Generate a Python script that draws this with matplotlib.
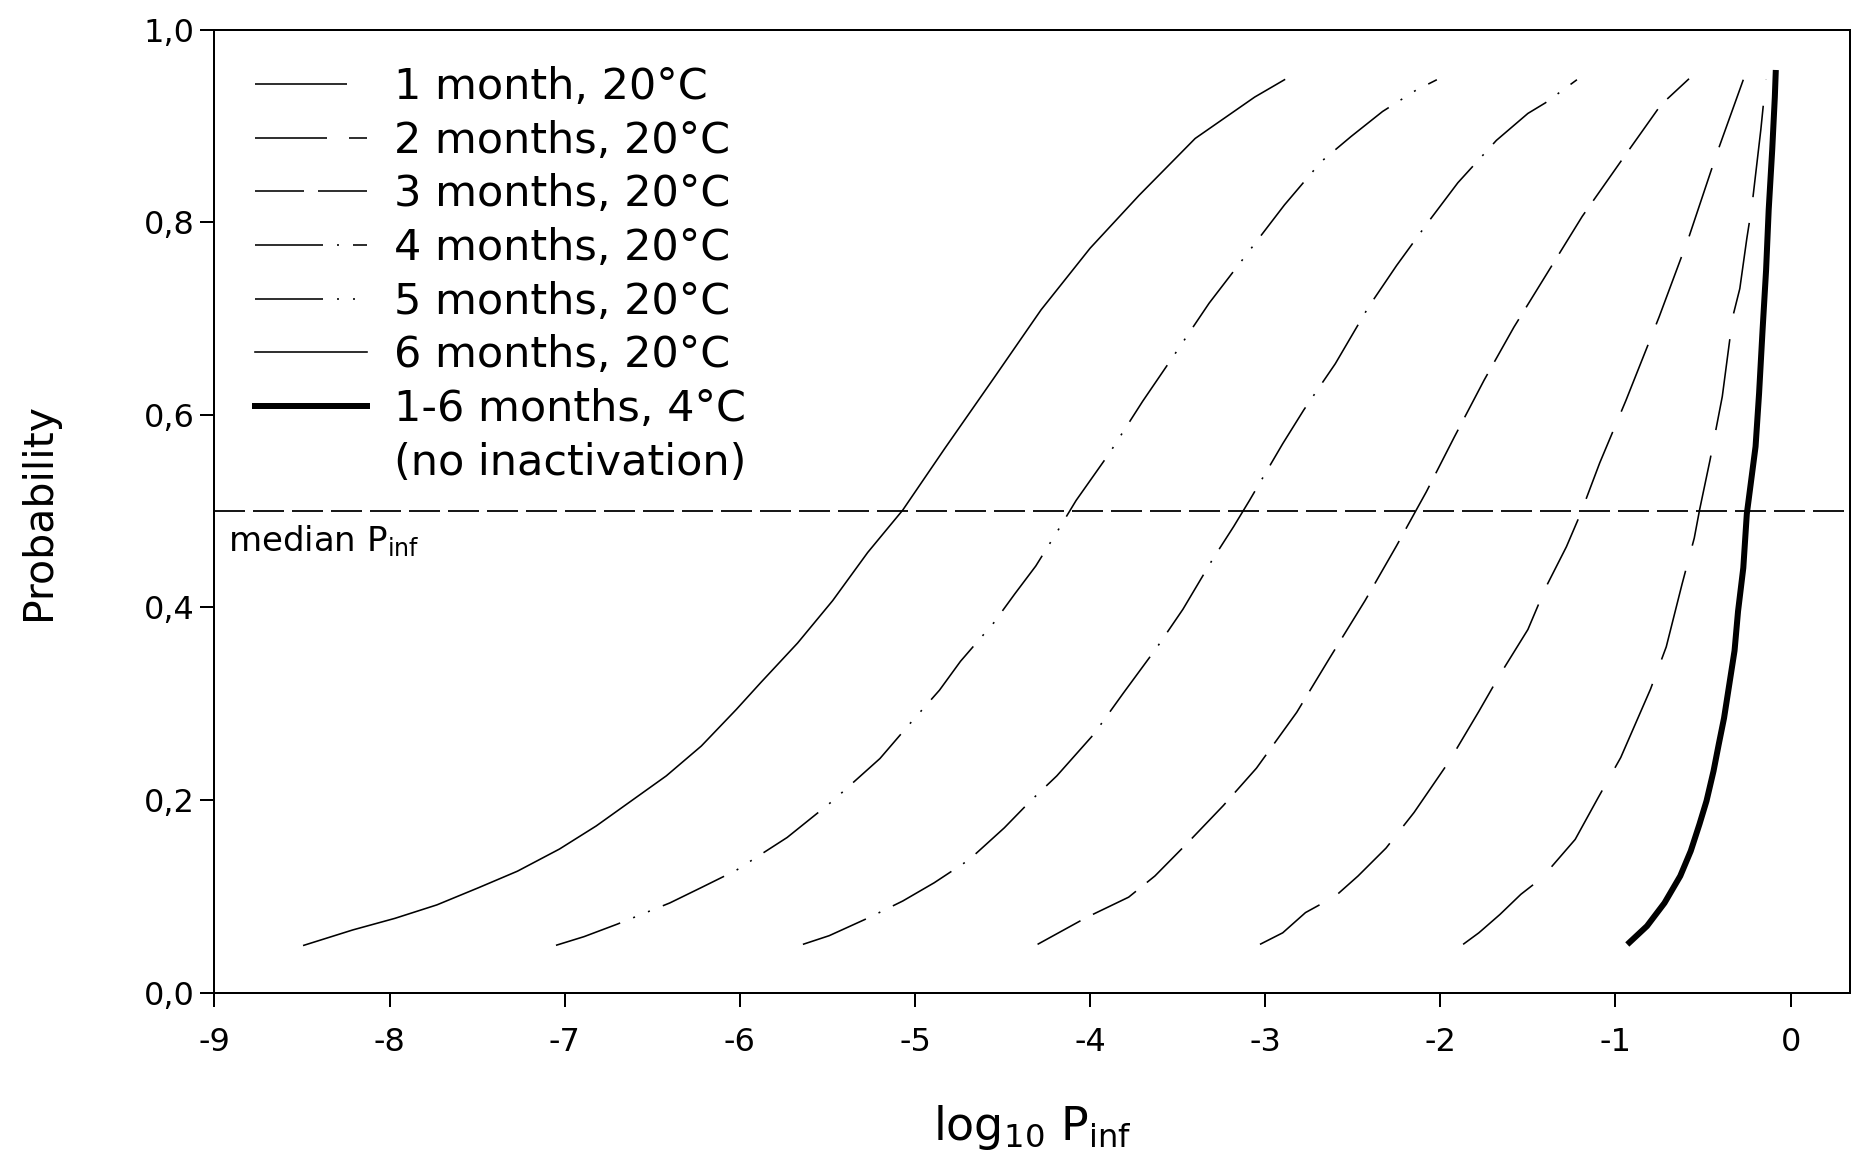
import matplotlib
matplotlib.use("Agg")
import matplotlib.pyplot as plt
from matplotlib.lines import Line2D
from matplotlib.ticker import FuncFormatter

# curves: log10 P_inf (x) against probability (y)
x_1m = [-1.87, -1.78, -1.66, -1.54, -1.42, -1.23, -1.10, -0.97, -0.80, -0.71, -0.62,
        -0.55, -0.52, -0.46, -0.39, -0.33, -0.29, -0.25, -0.22, -0.17, -0.15, -0.14]
y_1m = [0.050, 0.062, 0.081, 0.102, 0.119, 0.159, 0.202, 0.244, 0.315, 0.359, 0.424,
        0.472, 0.501, 0.553, 0.619, 0.702, 0.731, 0.783, 0.818, 0.896, 0.932, 0.948]

x_2m = [-3.03, -2.90, -2.77, -2.60, -2.47, -2.31, -2.15, -1.95, -1.78, -1.66, -1.50,
        -1.40, -1.28, -1.20, -1.09, -0.94, -0.75, -0.58, -0.42, -0.27]
y_2m = [0.050, 0.062, 0.083, 0.100, 0.121, 0.150, 0.187, 0.240, 0.292, 0.330, 0.377,
        0.420, 0.463, 0.497, 0.550, 0.615, 0.702, 0.785, 0.872, 0.948]

x_3m = [-4.30, -4.02, -3.78, -3.63, -3.44, -3.24, -3.05, -2.82, -2.63, -2.43, -2.25,
        -2.15, -2.08, -1.92, -1.75, -1.58, -1.38, -1.19, -0.97, -0.74, -0.58]
y_3m = [0.050, 0.078, 0.099, 0.121, 0.156, 0.194, 0.233, 0.291, 0.348, 0.407, 0.464,
        0.497, 0.520, 0.577, 0.636, 0.691, 0.750, 0.806, 0.863, 0.922, 0.949]

x_4m = [-5.64, -5.49, -5.26, -5.07, -4.89, -4.69, -4.49, -4.34, -4.19, -3.98, -3.81,
        -3.62, -3.47, -3.30, -3.18, -3.09, -2.90, -2.78, -2.60, -2.41, -2.25, -2.07,
        -1.90, -1.68, -1.50, -1.40, -1.22]
y_4m = [0.050, 0.059, 0.078, 0.095, 0.114, 0.138, 0.171, 0.199, 0.225, 0.268, 0.311,
        0.358, 0.398, 0.450, 0.484, 0.511, 0.570, 0.605, 0.653, 0.712, 0.755, 0.800,
        0.841, 0.885, 0.913, 0.924, 0.948]

x_5m = [-7.05, -6.89, -6.70, -6.40, -6.22, -6.02, -5.73, -5.47, -5.20, -5.03, -4.86,
        -4.74, -4.55, -4.43, -4.31, -4.18, -4.08, -3.89, -3.70, -3.52, -3.32, -3.13,
        -2.89, -2.68, -2.51, -2.33, -2.14, -2.02]
y_5m = [0.049, 0.058, 0.071, 0.093, 0.109, 0.127, 0.161, 0.199, 0.243, 0.279, 0.314,
        0.344, 0.384, 0.414, 0.443, 0.481, 0.511, 0.560, 0.614, 0.662, 0.716, 0.761,
        0.818, 0.863, 0.889, 0.915, 0.937, 0.948]

x_6m = [-8.49, -8.21, -7.97, -7.73, -7.49, -7.27, -7.03, -6.82, -6.62, -6.42, -6.22,
        -6.02, -5.88, -5.67, -5.47, -5.27, -5.07, -4.83, -4.55, -4.28, -4.00, -3.72,
        -3.40, -3.06, -2.89]
y_6m = [0.049, 0.065, 0.077, 0.091, 0.109, 0.126, 0.149, 0.173, 0.199, 0.225, 0.256,
        0.294, 0.322, 0.363, 0.407, 0.457, 0.501, 0.565, 0.638, 0.709, 0.773, 0.828,
        0.887, 0.930, 0.948]

x_4c = [-0.92, -0.82, -0.72, -0.63, -0.57, -0.52, -0.48, -0.44, -0.41, -0.38, -0.35,
        -0.32, -0.30, -0.27, -0.25, -0.20, -0.18, -0.16, -0.14, -0.125, -0.105, -0.09, -0.085]
y_4c = [0.052, 0.069, 0.093, 0.121, 0.147, 0.175, 0.199, 0.230, 0.258, 0.285, 0.320,
        0.355, 0.396, 0.441, 0.497, 0.567, 0.622, 0.688, 0.750, 0.813, 0.875, 0.930, 0.955]

labels = ['1 month, 20°C', '2 months, 20°C', '3 months, 20°C', '4 months, 20°C',
          '5 months, 20°C', '6 months, 20°C', '1-6 months, 4°C']
median_p = 0.5

plt.rcParams['font.family'] = 'DejaVu Sans'
plt.rcParams['axes.unicode_minus'] = False
plt.rcParams['mathtext.default'] = 'regular'
plt.rcParams['lines.scale_dashes'] = False

# dpi 72 -> 1 pt == 1 px
fig = plt.figure(figsize=(1857 / 72, 1163 / 72), dpi=72)
ax = fig.add_axes([0.1155, 0.1466, 0.8808, 0.8279])

thin = 1.6
lines = []
lines += ax.plot(x_1m, y_1m, color='black', lw=thin, dashes=(92, 26))
lines += ax.plot(x_2m, y_2m, color='black', lw=thin, dashes=(72, 22))
lines += ax.plot(x_3m, y_3m, color='black', lw=thin, dashes=(49, 14))
lines += ax.plot(x_4m, y_4m, color='black', lw=thin, dashes=(68, 14, 2, 14))
lines += ax.plot(x_5m, y_5m, color='black', lw=thin, dashes=(68, 14, 2, 14, 2, 14))
lines += ax.plot(x_6m, y_6m, color='black', lw=thin)
lines += ax.plot(x_4c, y_4c, color='black', lw=6)

ax.axhline(median_p, color='black', lw=1.8, dashes=(31, 8))
ax.text(-8.92, 0.487, 'median P$_{inf}$', fontsize=34, va='top', ha='left')

# extra blank entry carries the second line of the last label
handles = lines + [Line2D([], [], color='none')]
texts = labels + ['(no inactivation)']
ax.legend(handles, texts, loc='upper left', bbox_to_anchor=(0.0246, 0.962),
          frameon=False, fontsize=43, handlelength=2.6, handletextpad=0.65,
          labelspacing=0.27, borderpad=0, borderaxespad=0)

ax.set_xlim(-9, 0.34)
ax.set_ylim(0, 1.0)
ax.set_xticks(range(-9, 1))
ax.set_yticks([0, 0.2, 0.4, 0.6, 0.8, 1.0])
ax.yaxis.set_major_formatter(FuncFormatter(lambda v, pos: f'{v:.1f}'.replace('.', ',')))
ax.tick_params(direction='out', length=14, width=2, labelsize=32, top=False, right=False)
ax.tick_params(axis='x', pad=20)
ax.tick_params(axis='y', pad=6)
for s in ax.spines.values():
    s.set_linewidth(2)

ax.set_xlabel('log$_{10}$ P$_{inf}$', fontsize=46)
ax.set_ylabel('Probability', fontsize=41)
ax.xaxis.set_label_coords(0.5, -0.115)
ax.yaxis.set_label_coords(-0.095, 0.5)

fig.savefig('out.png', dpi=72)
